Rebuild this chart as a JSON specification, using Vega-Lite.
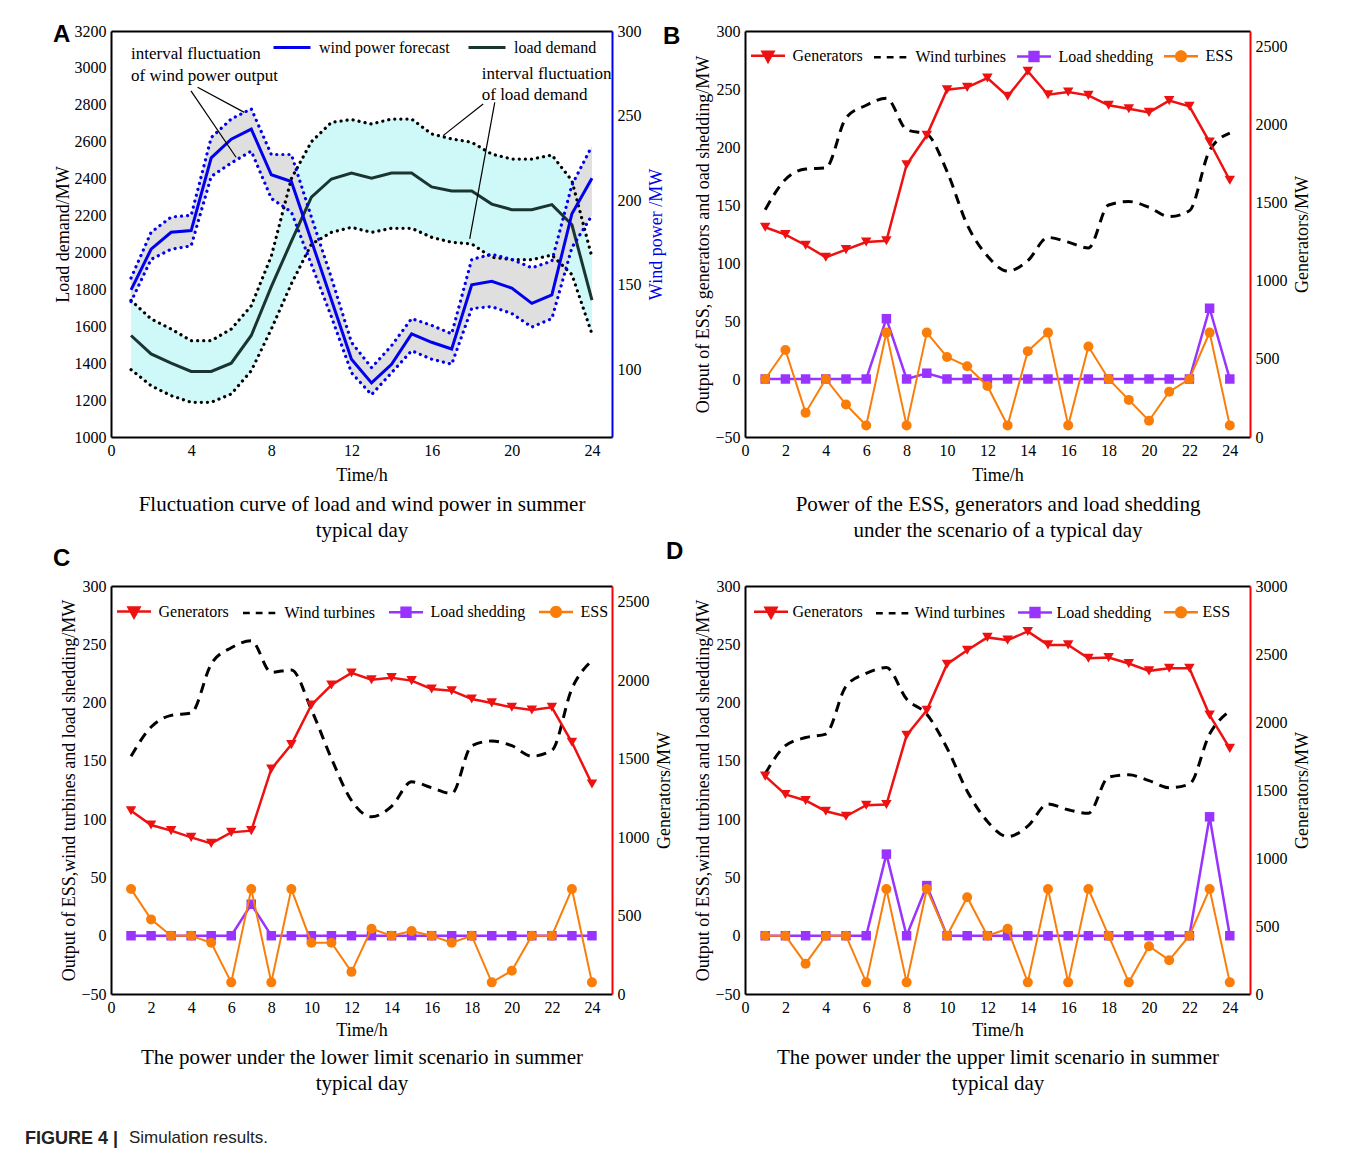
{
  "$schema": "https://vega.github.io/schema/vega-lite/v6.json",
  "background": "white",
  "padding": {"left": 24, "top": 23, "right": 5, "bottom": 5},
  "config": {
    "view": {"stroke": null},
    "font": "Liberation Serif",
    "axis": {"labelFont": "Liberation Serif", "labelFontSize": 16, "labelColor": "#000", "titleFont": "Liberation Serif", "titleFontSize": 18, "titleFontWeight": "normal", "titleColor": "#000", "grid": false, "ticks": false, "domainColor": "#000", "domainWidth": 2, "labelPadding": 5, "labelFlush": false, "labelOverlap": false, "format": "d"},
    "legend": {"labelFont": "Liberation Serif", "labelFontSize": 16, "labelColor": "#000", "padding": 0},
    "title": {"font": "Liberation Sans", "fontSize": 24, "fontWeight": "bold", "color": "#000", "offset": 0}
  },
  "datasets": {
    "A": [
      {"h": 1, "load": 1550, "lhi": 1740, "llo": 1365, "wind": 147, "whi": 154, "wlo": 140},
      {"h": 2, "load": 1450, "lhi": 1640, "llo": 1278, "wind": 171, "whi": 181, "wlo": 165},
      {"h": 3, "load": 1400, "lhi": 1585, "llo": 1224, "wind": 181, "whi": 190, "wlo": 171},
      {"h": 4, "load": 1355, "lhi": 1522, "llo": 1188, "wind": 182, "whi": 191, "wlo": 173},
      {"h": 5, "load": 1355, "lhi": 1522, "llo": 1188, "wind": 225, "whi": 237, "wlo": 214},
      {"h": 6, "load": 1400, "lhi": 1585, "llo": 1233, "wind": 236, "whi": 248, "wlo": 222},
      {"h": 7, "load": 1550, "lhi": 1711, "llo": 1359, "wind": 242, "whi": 254, "wlo": 229},
      {"h": 8, "load": 1815, "lhi": 1980, "llo": 1585, "wind": 215, "whi": 227, "wlo": 201},
      {"h": 9, "load": 2060, "lhi": 2400, "llo": 1830, "wind": 211, "whi": 227, "wlo": 193},
      {"h": 10, "load": 2300, "lhi": 2600, "llo": 2045, "wind": 176, "whi": 190, "wlo": 162},
      {"h": 11, "load": 2398, "lhi": 2705, "llo": 2109, "wind": 141, "whi": 154, "wlo": 131},
      {"h": 12, "load": 2430, "lhi": 2720, "llo": 2136, "wind": 106, "whi": 116, "wlo": 98},
      {"h": 13, "load": 2403, "lhi": 2696, "llo": 2109, "wind": 92, "whi": 101, "wlo": 85},
      {"h": 14, "load": 2430, "lhi": 2723, "llo": 2131, "wind": 103, "whi": 114, "wlo": 98},
      {"h": 15, "load": 2430, "lhi": 2723, "llo": 2131, "wind": 121, "whi": 130, "wlo": 111},
      {"h": 16, "load": 2355, "lhi": 2642, "llo": 2082, "wind": 116, "whi": 126, "wlo": 106},
      {"h": 17, "load": 2333, "lhi": 2615, "llo": 2055, "wind": 112, "whi": 121, "wlo": 103},
      {"h": 18, "load": 2333, "lhi": 2597, "llo": 2046, "wind": 150, "whi": 165, "wlo": 136},
      {"h": 19, "load": 2262, "lhi": 2533, "llo": 1974, "wind": 152, "whi": 168, "wlo": 137},
      {"h": 20, "load": 2232, "lhi": 2506, "llo": 1961, "wind": 148, "whi": 165, "wlo": 133},
      {"h": 21, "load": 2232, "lhi": 2506, "llo": 1961, "wind": 139, "whi": 160, "wlo": 125},
      {"h": 22, "load": 2259, "lhi": 2528, "llo": 1986, "wind": 144, "whi": 164, "wlo": 130},
      {"h": 23, "load": 2150, "lhi": 2389, "llo": 1880, "wind": 192, "whi": 209, "wlo": 172},
      {"h": 24, "load": 1742, "lhi": 1974, "llo": 1558, "wind": 213, "whi": 232, "wlo": 191}
    ],
    "annoA": [
      {"x": 1.0, "y": 3075, "t": "interval fluctuation"},
      {"x": 1.0, "y": 2956, "t": "of wind power output"},
      {"x": 18.5, "y": 2967, "t": "interval fluctuation"},
      {"x": 18.5, "y": 2853, "t": "of load demand"}
    ],
    "leadA": [
      {"x": 3.99, "y": 2876, "x2": 6.24, "y2": 2516},
      {"x": 4.32, "y": 2895, "x2": 6.65, "y2": 2759},
      {"x": 18.57, "y": 2804, "x2": 16.57, "y2": 2633},
      {"x": 19.15, "y": 2813, "x2": 17.9, "y2": 2073}
    ],
    "B": [
      {"h": 1, "gen": 1343, "wind": 146, "ls": 0, "ess": 0},
      {"h": 2, "gen": 1296, "wind": 172, "ls": 0, "ess": 25},
      {"h": 3, "gen": 1228, "wind": 181, "ls": 0, "ess": -29},
      {"h": 4, "gen": 1151, "wind": 182, "ls": 0, "ess": 0},
      {"h": 5, "gen": 1200, "wind": 225, "ls": 0, "ess": -22},
      {"h": 6, "gen": 1249, "wind": 236, "ls": 0, "ess": -40},
      {"h": 7, "gen": 1257, "wind": 242, "ls": 52, "ess": 40},
      {"h": 8, "gen": 1744, "wind": 215, "ls": 0, "ess": -40},
      {"h": 9, "gen": 1932, "wind": 211, "ls": 5, "ess": 40},
      {"h": 10, "gen": 2224, "wind": 179, "ls": 0, "ess": 19},
      {"h": 11, "gen": 2239, "wind": 133, "ls": 0, "ess": 11},
      {"h": 12, "gen": 2299, "wind": 106, "ls": 0, "ess": -6},
      {"h": 13, "gen": 2182, "wind": 93, "ls": 0, "ess": -40},
      {"h": 14, "gen": 2342, "wind": 102, "ls": 0, "ess": 24},
      {"h": 15, "gen": 2192, "wind": 122, "ls": 0, "ess": 40},
      {"h": 16, "gen": 2209, "wind": 118, "ls": 0, "ess": -40},
      {"h": 17, "gen": 2188, "wind": 113, "ls": 0, "ess": 28},
      {"h": 18, "gen": 2124, "wind": 150, "ls": 0, "ess": 0},
      {"h": 19, "gen": 2102, "wind": 153, "ls": 0, "ess": -18},
      {"h": 20, "gen": 2079, "wind": 148, "ls": 0, "ess": -36},
      {"h": 21, "gen": 2154, "wind": 140, "ls": 0, "ess": -11},
      {"h": 22, "gen": 2118, "wind": 145, "ls": 0, "ess": 0},
      {"h": 23, "gen": 1889, "wind": 197, "ls": 61, "ess": 40},
      {"h": 24, "gen": 1644, "wind": 212, "ls": 0, "ess": -40}
    ],
    "C": [
      {"h": 1, "gen": 1168, "wind": 154, "ls": 0, "ess": 40},
      {"h": 2, "gen": 1077, "wind": 179, "ls": 0, "ess": 14},
      {"h": 3, "gen": 1041, "wind": 189, "ls": 0, "ess": 0},
      {"h": 4, "gen": 998, "wind": 191, "ls": 0, "ess": 0},
      {"h": 5, "gen": 960, "wind": 233, "ls": 0, "ess": -6},
      {"h": 6, "gen": 1030, "wind": 247, "ls": 0, "ess": -40},
      {"h": 7, "gen": 1041, "wind": 253, "ls": 27, "ess": 40},
      {"h": 8, "gen": 1434, "wind": 226, "ls": 0, "ess": -40},
      {"h": 9, "gen": 1589, "wind": 228, "ls": 0, "ess": 40},
      {"h": 10, "gen": 1842, "wind": 194, "ls": 0, "ess": -6},
      {"h": 11, "gen": 1969, "wind": 152, "ls": 0, "ess": -6},
      {"h": 12, "gen": 2046, "wind": 116, "ls": 0, "ess": -31},
      {"h": 13, "gen": 2003, "wind": 102, "ls": 0, "ess": 6},
      {"h": 14, "gen": 2016, "wind": 111, "ls": 0, "ess": 0},
      {"h": 15, "gen": 1997, "wind": 132, "ls": 0, "ess": 4},
      {"h": 16, "gen": 1944, "wind": 127, "ls": 0, "ess": 0},
      {"h": 17, "gen": 1933, "wind": 122, "ls": 0, "ess": -6},
      {"h": 18, "gen": 1880, "wind": 163, "ls": 0, "ess": 0},
      {"h": 19, "gen": 1855, "wind": 167, "ls": 0, "ess": -40},
      {"h": 20, "gen": 1827, "wind": 163, "ls": 0, "ess": -30},
      {"h": 21, "gen": 1810, "wind": 154, "ls": 0, "ess": 0},
      {"h": 22, "gen": 1827, "wind": 159, "ls": 0, "ess": 0},
      {"h": 23, "gen": 1604, "wind": 212, "ls": 0, "ess": 40},
      {"h": 24, "gen": 1338, "wind": 236, "ls": 0, "ess": -40}
    ],
    "D": [
      {"h": 1, "gen": 1602, "wind": 139, "ls": 0, "ess": 0},
      {"h": 2, "gen": 1467, "wind": 163, "ls": 0, "ess": 0},
      {"h": 3, "gen": 1423, "wind": 170, "ls": 0, "ess": -24},
      {"h": 4, "gen": 1344, "wind": 173, "ls": 0, "ess": 0},
      {"h": 5, "gen": 1307, "wind": 214, "ls": 0, "ess": 0},
      {"h": 6, "gen": 1388, "wind": 225, "ls": 0, "ess": -40},
      {"h": 7, "gen": 1393, "wind": 230, "ls": 70, "ess": 40},
      {"h": 8, "gen": 1902, "wind": 203, "ls": 0, "ess": -40},
      {"h": 9, "gen": 2086, "wind": 190, "ls": 43, "ess": 40},
      {"h": 10, "gen": 2425, "wind": 161, "ls": 0, "ess": 0},
      {"h": 11, "gen": 2528, "wind": 124, "ls": 0, "ess": 33},
      {"h": 12, "gen": 2622, "wind": 98, "ls": 0, "ess": 0},
      {"h": 13, "gen": 2602, "wind": 85, "ls": 0, "ess": 6},
      {"h": 14, "gen": 2666, "wind": 94, "ls": 0, "ess": -40},
      {"h": 15, "gen": 2567, "wind": 113, "ls": 0, "ess": 40},
      {"h": 16, "gen": 2567, "wind": 108, "ls": 0, "ess": -40},
      {"h": 17, "gen": 2469, "wind": 105, "ls": 0, "ess": 40},
      {"h": 18, "gen": 2474, "wind": 136, "ls": 0, "ess": 0},
      {"h": 19, "gen": 2430, "wind": 138, "ls": 0, "ess": -40},
      {"h": 20, "gen": 2376, "wind": 133, "ls": 0, "ess": -9},
      {"h": 21, "gen": 2395, "wind": 127, "ls": 0, "ess": -21},
      {"h": 22, "gen": 2395, "wind": 130, "ls": 0, "ess": 0},
      {"h": 23, "gen": 2051, "wind": 173, "ls": 102, "ess": 40},
      {"h": 24, "gen": 1806, "wind": 193, "ls": 0, "ess": -40}
    ]
  },
  "title": {"text": "Simulation results.", "orient": "bottom", "anchor": "start", "frame": "bounds", "font": "Liberation Sans", "fontSize": 17, "fontWeight": "normal", "color": "#222", "dx": 104, "dy": -18, "offset": 0},
  "vconcat": [
    {
      "title": {"text": "FIGURE 4 |", "orient": "bottom", "anchor": "start", "frame": "bounds", "font": "Liberation Sans", "fontSize": 18, "fontWeight": "bold", "color": "#222", "dx": -28, "offset": 36},
      "columns": 2,
      "bounds": "flush",
      "spacing": {"row": 149, "column": 133},
      "resolve": {"scale": {"color": "independent"}, "legend": {"color": "independent"}},
      "concat": [
        {
          "width": 501, "height": 406,
          "title": {"text": "A", "anchor": "start", "frame": "bounds", "dx": -1, "dy": 28},
          "data": {"name": "A"},
          "resolve": {"scale": {"y": "independent"}, "axis": {"x": "independent"}},
          "layer": [
            {"mark": {"type": "area", "color": "#cff8f8"},
             "encoding": {
               "x": {"field": "h", "type": "quantitative", "scale": {"domain": [0, 25], "nice": false}, "axis": {"values": [0, 4, 8, 12, 16, 20, 24], "title": "Time/h", "titlePadding": 8}},
               "y": {"field": "lhi", "type": "quantitative", "scale": {"domain": [1000, 3200], "nice": false, "zero": false}, "axis": {"values": [1000, 1200, 1400, 1600, 1800, 2000, 2200, 2400, 2600, 2800, 3000, 3200], "title": "Load demand/MW", "titlePadding": 2}},
               "y2": {"field": "llo"}}},
            {"mark": {"type": "area", "color": "#dcdcdc", "opacity": 0.92},
             "encoding": {
               "x": {"field": "h", "type": "quantitative", "scale": {"domain": [0, 25], "nice": false}, "axis": {"orient": "top", "labels": false, "title": null, "domainColor": "#000"}},
               "y": {"field": "whi", "type": "quantitative", "scale": {"domain": [60, 300], "nice": false, "zero": false}, "axis": {"orient": "right", "values": [100, 150, 200, 250, 300], "title": "Wind power /MW", "titleColor": "#0000ee", "domainColor": "#0000ee", "titleAngle": 270, "titleBaseline": "top", "titlePadding": 6}},
               "y2": {"field": "wlo"}}},
            {"mark": {"type": "line", "color": "#000", "strokeWidth": 3.2, "strokeDash": [0.1, 6], "strokeCap": "round"},
             "encoding": {
               "x": {"field": "h", "type": "quantitative", "scale": {"domain": [0, 25], "nice": false}, "axis": null},
               "y": {"field": "lhi", "type": "quantitative", "scale": {"domain": [1000, 3200], "nice": false, "zero": false}, "axis": null}}},
            {"mark": {"type": "line", "color": "#000", "strokeWidth": 3.2, "strokeDash": [0.1, 6], "strokeCap": "round"},
             "encoding": {
               "x": {"field": "h", "type": "quantitative", "scale": {"domain": [0, 25], "nice": false}, "axis": null},
               "y": {"field": "llo", "type": "quantitative", "scale": {"domain": [1000, 3200], "nice": false, "zero": false}, "axis": null}}},
            {"mark": {"type": "line", "strokeWidth": 3},
             "encoding": {
               "x": {"field": "h", "type": "quantitative", "scale": {"domain": [0, 25], "nice": false}, "axis": null},
               "y": {"field": "load", "type": "quantitative", "scale": {"domain": [1000, 3200], "nice": false, "zero": false}, "axis": null},
               "color": {"datum": "load demand", "type": "nominal", "scale": {"domain": ["wind power forecast", "load demand"], "range": ["#0000ee", "#1a3530"]},
                 "legend": {"orient": "none", "legendX": 161, "legendY": -3.5, "direction": "horizontal", "columns": 2, "title": null, "symbolType": "stroke", "symbolSize": 1369, "symbolStrokeWidth": 3, "labelOffset": 7, "columnPadding": 12, "labelLimit": 300}}}},
            {"mark": {"type": "line", "color": "#0000ee", "strokeWidth": 3.2, "strokeDash": [0.1, 6], "strokeCap": "round"},
             "encoding": {
               "x": {"field": "h", "type": "quantitative", "scale": {"domain": [0, 25], "nice": false}, "axis": null},
               "y": {"field": "whi", "type": "quantitative", "scale": {"domain": [60, 300], "nice": false, "zero": false}, "axis": null}}},
            {"mark": {"type": "line", "color": "#0000ee", "strokeWidth": 3.2, "strokeDash": [0.1, 6], "strokeCap": "round"},
             "encoding": {
               "x": {"field": "h", "type": "quantitative", "scale": {"domain": [0, 25], "nice": false}, "axis": null},
               "y": {"field": "wlo", "type": "quantitative", "scale": {"domain": [60, 300], "nice": false, "zero": false}, "axis": null}}},
            {"mark": {"type": "line", "strokeWidth": 3},
             "encoding": {
               "x": {"field": "h", "type": "quantitative", "scale": {"domain": [0, 25], "nice": false}, "axis": null},
               "y": {"field": "wind", "type": "quantitative", "scale": {"domain": [60, 300], "nice": false, "zero": false}, "axis": null},
               "color": {"datum": "wind power forecast", "type": "nominal"}}},
            {"data": {"name": "leadA"},
             "mark": {"type": "rule", "color": "#000", "strokeWidth": 1.2},
             "encoding": {
               "x": {"field": "x", "type": "quantitative", "scale": {"domain": [0, 25], "nice": false}, "axis": null},
               "y": {"field": "y", "type": "quantitative", "scale": {"domain": [1000, 3200], "nice": false, "zero": false}, "axis": null},
               "x2": {"field": "x2"}, "y2": {"field": "y2"}}},
            {"data": {"name": "annoA"},
             "mark": {"type": "text", "align": "left", "baseline": "middle", "fontSize": 17, "font": "Liberation Serif", "color": "#000"},
             "encoding": {
               "x": {"field": "x", "type": "quantitative", "scale": {"domain": [0, 25], "nice": false}, "axis": null},
               "y": {"field": "y", "type": "quantitative", "scale": {"domain": [1000, 3200], "nice": false, "zero": false}, "axis": null},
               "text": {"field": "t"}}},
            {"mark": {"type": "point", "opacity": 0},
             "encoding": {
               "x": {"field": "h", "type": "quantitative", "scale": {"domain": [0, 25], "nice": false}, "axis": {"orient": "bottom", "labels": false, "domain": false, "title": ["Fluctuation curve of load and wind power in summer", "typical day"], "titleFontSize": 21, "titleLineHeight": 26.5, "titlePadding": 56}},
               "y": {"field": "load", "type": "quantitative", "scale": {"domain": [1000, 3200], "nice": false, "zero": false}, "axis": null}}}
          ]
        },
        {
          "width": 505, "height": 406,
          "title": {"text": "B", "anchor": "start", "frame": "bounds", "dx": -32, "dy": 30},
          "data": {"name": "B"},
          "resolve": {"scale": {"y": "independent"}, "axis": {"x": "independent"}},
          "layer": [
            {"mark": {"type": "line", "strokeWidth": 3, "strokeDash": [10, 7], "interpolate": "monotone"},
             "encoding": {
               "x": {"field": "h", "type": "quantitative", "scale": {"domain": [0, 25], "nice": false}, "axis": {"values": [0, 2, 4, 6, 8, 10, 12, 14, 16, 18, 20, 22, 24], "title": "Time/h", "titlePadding": 8}},
               "y": {"field": "wind", "type": "quantitative", "scale": {"domain": [-50, 300], "nice": false, "zero": false}, "axis": {"values": [-50, 0, 50, 100, 150, 200, 250, 300], "title": "Output of ESS, generators and oad shedding/MW", "titlePadding": 2}},
               "color": {"datum": "Wind turbines", "type": "nominal", "scale": {"domain": ["Generators", "Wind turbines", "Load shedding", "ESS"], "range": ["#ee1111", "#000000", "#9933ff", "#fa7d0a"]},
                 "legend": {"orient": "none", "legendX": 4.5, "legendY": 6, "direction": "horizontal", "columns": 4, "title": null, "symbolSize": 1156, "labelOffset": 6, "columnPadding": 5, "labelLimit": 300,
                   "encode": {"symbols": {"update": {
                     "shape": {"signal": "datum.value === 'Generators' ? 'M-1,0L1,0M-0.32,-0.24L0.32,-0.24L0,0.34Z' : datum.value === 'Wind turbines' ? 'M-1,0L-0.6,0M-0.25,0L0.15,0M0.5,0L0.9,0' : datum.value === 'Load shedding' ? 'M-1,0L1,0M-0.26,-0.26L0.26,-0.26L0.26,0.26L-0.26,0.26Z' : 'M-1,0L1,0M0.29,0L0.251,0.145L0.145,0.251L0,0.29L-0.145,0.251L-0.251,0.145L-0.29,0L-0.251,-0.145L-0.145,-0.251L0,-0.29L0.145,-0.251L0.251,-0.145Z'"},
                     "fill": {"signal": "datum.value === 'Generators' ? '#ee1111' : datum.value === 'Load shedding' ? '#9933ff' : datum.value === 'ESS' ? '#fa7d0a' : 'transparent'"},
                     "stroke": {"signal": "datum.value === 'Generators' ? '#ee1111' : datum.value === 'Load shedding' ? '#9933ff' : datum.value === 'ESS' ? '#fa7d0a' : '#000000'"},
                     "strokeWidth": {"value": 2.5},
                     "opacity": {"value": 1}}}}}}}},
            {"mark": {"type": "line", "strokeWidth": 2.5, "point": {"shape": "triangle-down", "size": 110, "filled": true}},
             "encoding": {
               "x": {"field": "h", "type": "quantitative", "scale": {"domain": [0, 25], "nice": false}, "axis": {"orient": "top", "labels": false, "title": null, "domainColor": "#000"}},
               "y": {"field": "gen", "type": "quantitative", "scale": {"domain": [0, 2600], "nice": false, "zero": false}, "axis": {"orient": "right", "values": [0, 500, 1000, 1500, 2000, 2500], "title": "Generators/MW", "domainColor": "#ff0000", "titleAngle": 270, "titleBaseline": "top", "titlePadding": 6}},
               "color": {"datum": "Generators", "type": "nominal"}}},
            {"mark": {"type": "line", "strokeWidth": 2.5, "point": {"shape": "square", "size": 90, "filled": true}},
             "encoding": {
               "x": {"field": "h", "type": "quantitative", "scale": {"domain": [0, 25], "nice": false}, "axis": null},
               "y": {"field": "ls", "type": "quantitative", "scale": {"domain": [-50, 300], "nice": false, "zero": false}, "axis": null},
               "color": {"datum": "Load shedding", "type": "nominal"}}},
            {"mark": {"type": "line", "strokeWidth": 2, "point": {"shape": "circle", "size": 100, "filled": true}},
             "encoding": {
               "x": {"field": "h", "type": "quantitative", "scale": {"domain": [0, 25], "nice": false}, "axis": {"orient": "bottom", "labels": false, "domain": false, "title": ["Power of the ESS, generators and load shedding", "under the scenario of a typical day"], "titleFontSize": 21, "titleLineHeight": 26.5, "titlePadding": 56}},
               "y": {"field": "ess", "type": "quantitative", "scale": {"domain": [-50, 300], "nice": false, "zero": false}, "axis": null},
               "color": {"datum": "ESS", "type": "nominal"}}}
          ]
        },
        {
          "width": 501, "height": 408,
          "title": {"text": "C", "anchor": "start", "frame": "bounds", "dx": -8, "dy": -3},
          "data": {"name": "C"},
          "resolve": {"scale": {"y": "independent"}, "axis": {"x": "independent"}},
          "layer": [
            {"mark": {"type": "line", "strokeWidth": 3, "strokeDash": [10, 7], "interpolate": "monotone"},
             "encoding": {
               "x": {"field": "h", "type": "quantitative", "scale": {"domain": [0, 25], "nice": false}, "axis": {"values": [0, 2, 4, 6, 8, 10, 12, 14, 16, 18, 20, 22, 24], "title": "Time/h", "titlePadding": 6}},
               "y": {"field": "wind", "type": "quantitative", "scale": {"domain": [-50, 300], "nice": false, "zero": false}, "axis": {"values": [-50, 0, 50, 100, 150, 200, 250, 300], "title": "Output of ESS,wind turbines and load shedding/MW", "titlePadding": 2}},
               "color": {"datum": "Wind turbines", "type": "nominal", "scale": {"domain": ["Generators", "Wind turbines", "Load shedding", "ESS"], "range": ["#ee1111", "#000000", "#9933ff", "#fa7d0a"]},
                 "legend": {"orient": "none", "legendX": 4.5, "legendY": 6.7, "direction": "horizontal", "columns": 4, "title": null, "symbolSize": 1156, "labelOffset": 6, "columnPadding": 8, "labelLimit": 300,
                   "encode": {"symbols": {"update": {
                     "shape": {"signal": "datum.value === 'Generators' ? 'M-1,0L1,0M-0.32,-0.24L0.32,-0.24L0,0.34Z' : datum.value === 'Wind turbines' ? 'M-1,0L-0.6,0M-0.25,0L0.15,0M0.5,0L0.9,0' : datum.value === 'Load shedding' ? 'M-1,0L1,0M-0.26,-0.26L0.26,-0.26L0.26,0.26L-0.26,0.26Z' : 'M-1,0L1,0M0.29,0L0.251,0.145L0.145,0.251L0,0.29L-0.145,0.251L-0.251,0.145L-0.29,0L-0.251,-0.145L-0.145,-0.251L0,-0.29L0.145,-0.251L0.251,-0.145Z'"},
                     "fill": {"signal": "datum.value === 'Generators' ? '#ee1111' : datum.value === 'Load shedding' ? '#9933ff' : datum.value === 'ESS' ? '#fa7d0a' : 'transparent'"},
                     "stroke": {"signal": "datum.value === 'Generators' ? '#ee1111' : datum.value === 'Load shedding' ? '#9933ff' : datum.value === 'ESS' ? '#fa7d0a' : '#000000'"},
                     "strokeWidth": {"value": 2.5},
                     "opacity": {"value": 1}}}}}}}},
            {"mark": {"type": "line", "strokeWidth": 2.5, "point": {"shape": "triangle-down", "size": 110, "filled": true}},
             "encoding": {
               "x": {"field": "h", "type": "quantitative", "scale": {"domain": [0, 25], "nice": false}, "axis": {"orient": "top", "labels": false, "title": null, "domainColor": "#000"}},
               "y": {"field": "gen", "type": "quantitative", "scale": {"domain": [0, 2600], "nice": false, "zero": false}, "axis": {"orient": "right", "values": [0, 500, 1000, 1500, 2000, 2500], "title": "Generators/MW", "domainColor": "#ff0000", "titleAngle": 270, "titleBaseline": "top", "titlePadding": 6}},
               "color": {"datum": "Generators", "type": "nominal"}}},
            {"mark": {"type": "line", "strokeWidth": 2.5, "point": {"shape": "square", "size": 90, "filled": true}},
             "encoding": {
               "x": {"field": "h", "type": "quantitative", "scale": {"domain": [0, 25], "nice": false}, "axis": null},
               "y": {"field": "ls", "type": "quantitative", "scale": {"domain": [-50, 300], "nice": false, "zero": false}, "axis": null},
               "color": {"datum": "Load shedding", "type": "nominal"}}},
            {"mark": {"type": "line", "strokeWidth": 2, "point": {"shape": "circle", "size": 100, "filled": true}},
             "encoding": {
               "x": {"field": "h", "type": "quantitative", "scale": {"domain": [0, 25], "nice": false}, "axis": {"orient": "bottom", "labels": false, "domain": false, "title": ["The power under the lower limit scenario in summer", "typical day"], "titleFontSize": 21, "titleLineHeight": 26.5, "titlePadding": 52}},
               "y": {"field": "ess", "type": "quantitative", "scale": {"domain": [-50, 300], "nice": false, "zero": false}, "axis": null},
               "color": {"datum": "ESS", "type": "nominal"}}}
          ]
        },
        {
          "width": 505, "height": 408,
          "title": {"text": "D", "anchor": "start", "frame": "bounds", "dx": -29, "dy": -10},
          "data": {"name": "D"},
          "resolve": {"scale": {"y": "independent"}, "axis": {"x": "independent"}},
          "layer": [
            {"mark": {"type": "line", "strokeWidth": 3, "strokeDash": [10, 7], "interpolate": "monotone"},
             "encoding": {
               "x": {"field": "h", "type": "quantitative", "scale": {"domain": [0, 25], "nice": false}, "axis": {"values": [0, 2, 4, 6, 8, 10, 12, 14, 16, 18, 20, 22, 24], "title": "Time/h", "titlePadding": 6}},
               "y": {"field": "wind", "type": "quantitative", "scale": {"domain": [-50, 300], "nice": false, "zero": false}, "axis": {"values": [-50, 0, 50, 100, 150, 200, 250, 300], "title": "Output of ESS,wind turbines and load shedding/MW", "titlePadding": 2}},
               "color": {"datum": "Wind turbines", "type": "nominal", "scale": {"domain": ["Generators", "Wind turbines", "Load shedding", "ESS"], "range": ["#ee1111", "#000000", "#9933ff", "#fa7d0a"]},
                 "legend": {"orient": "none", "legendX": 7.5, "legendY": 7, "direction": "horizontal", "columns": 4, "title": null, "symbolSize": 1156, "labelOffset": 3, "columnPadding": 7, "labelLimit": 300,
                   "encode": {"symbols": {"update": {
                     "shape": {"signal": "datum.value === 'Generators' ? 'M-1,0L1,0M-0.32,-0.24L0.32,-0.24L0,0.34Z' : datum.value === 'Wind turbines' ? 'M-1,0L-0.6,0M-0.25,0L0.15,0M0.5,0L0.9,0' : datum.value === 'Load shedding' ? 'M-1,0L1,0M-0.26,-0.26L0.26,-0.26L0.26,0.26L-0.26,0.26Z' : 'M-1,0L1,0M0.29,0L0.251,0.145L0.145,0.251L0,0.29L-0.145,0.251L-0.251,0.145L-0.29,0L-0.251,-0.145L-0.145,-0.251L0,-0.29L0.145,-0.251L0.251,-0.145Z'"},
                     "fill": {"signal": "datum.value === 'Generators' ? '#ee1111' : datum.value === 'Load shedding' ? '#9933ff' : datum.value === 'ESS' ? '#fa7d0a' : 'transparent'"},
                     "stroke": {"signal": "datum.value === 'Generators' ? '#ee1111' : datum.value === 'Load shedding' ? '#9933ff' : datum.value === 'ESS' ? '#fa7d0a' : '#000000'"},
                     "strokeWidth": {"value": 2.5},
                     "opacity": {"value": 1}}}}}}}},
            {"mark": {"type": "line", "strokeWidth": 2.5, "point": {"shape": "triangle-down", "size": 110, "filled": true}},
             "encoding": {
               "x": {"field": "h", "type": "quantitative", "scale": {"domain": [0, 25], "nice": false}, "axis": {"orient": "top", "labels": false, "title": null, "domainColor": "#000"}},
               "y": {"field": "gen", "type": "quantitative", "scale": {"domain": [0, 3000], "nice": false, "zero": false}, "axis": {"orient": "right", "values": [0, 500, 1000, 1500, 2000, 2500, 3000], "title": "Generators/MW", "domainColor": "#ff0000", "titleAngle": 270, "titleBaseline": "top", "titlePadding": 6}},
               "color": {"datum": "Generators", "type": "nominal"}}},
            {"mark": {"type": "line", "strokeWidth": 2.5, "point": {"shape": "square", "size": 90, "filled": true}},
             "encoding": {
               "x": {"field": "h", "type": "quantitative", "scale": {"domain": [0, 25], "nice": false}, "axis": null},
               "y": {"field": "ls", "type": "quantitative", "scale": {"domain": [-50, 300], "nice": false, "zero": false}, "axis": null},
               "color": {"datum": "Load shedding", "type": "nominal"}}},
            {"mark": {"type": "line", "strokeWidth": 2, "point": {"shape": "circle", "size": 100, "filled": true}},
             "encoding": {
               "x": {"field": "h", "type": "quantitative", "scale": {"domain": [0, 25], "nice": false}, "axis": {"orient": "bottom", "labels": false, "domain": false, "title": ["The power under the upper limit scenario in summer", "typical day"], "titleFontSize": 21, "titleLineHeight": 26.5, "titlePadding": 52}},
               "y": {"field": "ess", "type": "quantitative", "scale": {"domain": [-50, 300], "nice": false, "zero": false}, "axis": null},
               "color": {"datum": "ESS", "type": "nominal"}}}
          ]
        }
      ]
    }
  ]
}
